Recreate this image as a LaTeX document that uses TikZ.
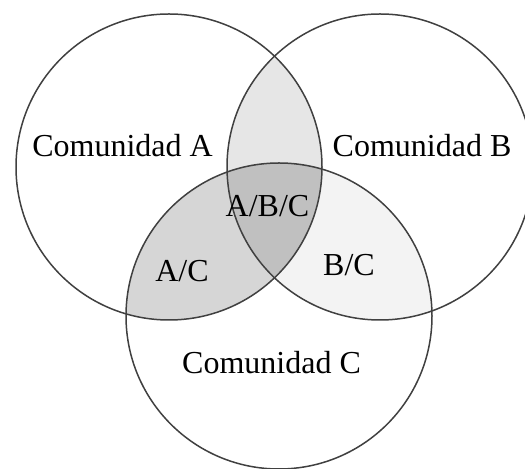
\documentclass[tikz,border=0pt]{standalone}
\usepackage{fontspec}
\setmainfont{Liberation Serif}
\usetikzlibrary{positioning}
\definecolor{shadeab}{HTML}{E6E6E6}
\definecolor{shadeac}{HTML}{D6D6D6}
\definecolor{shadebc}{HTML}{F3F3F3}
\definecolor{shadeabc}{HTML}{C0C0C0}
\definecolor{rim}{HTML}{404040}
\tikzset{
  ring/.style={
    draw=rim,
    line width=0.75pt
  },
  tag/.style={
    font=\fontsize{16}{19}\selectfont,
    inner sep=0pt,
    anchor=base
  }
}
\newcommand{\rad}{153}

\begin{document}
\begin{tikzpicture}[x=0.5pt, y=-0.5pt]
        \useasboundingbox (0,0) rectangle (525,469);
        \coordinate (ca) at (169,167);
        \coordinate (cb) at (380,167);
        \coordinate (cc) at (279,316);
        
        % overlaps
        \begin{scope}
          \clip (ca) circle (\rad);
          \fill[shadeab] (cb) circle (\rad);
          \fill[shadeac] (cc) circle (\rad);
        \end{scope}
        \begin{scope}
          \clip (cb) circle (\rad);
          \fill[shadebc] (cc) circle (\rad);
          \clip (cc) circle (\rad);
          \fill[shadeabc] (ca) circle (\rad);
        \end{scope}
        
        \draw[ring] (ca) circle (\rad);
        \draw[ring] (cb) circle (\rad);
        \draw[ring] (cc) circle (\rad);
        
        \node[tag] (coma) at (122.5,157) {Comunidad A};
        \node[tag] (comb) at (422,157) {Comunidad B};
        \node[tag] (comc) at (271.5,374) {Comunidad C};
        \node[tag] (abc) at (267.5,216.5) {A/B/C};
        \node[tag] (ac) at (182,281.5) {A/C};
        \node[tag] (bc) at (349,276) {B/C};
      \end{tikzpicture}
\end{document}
